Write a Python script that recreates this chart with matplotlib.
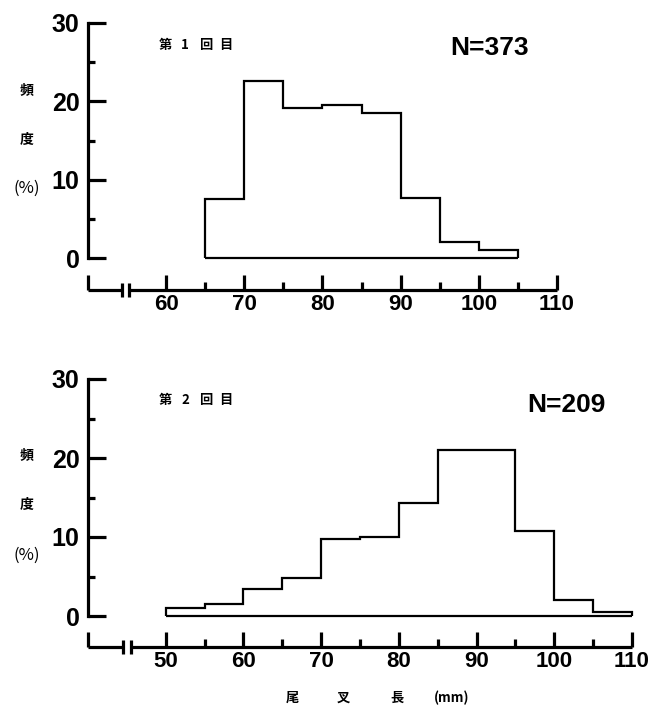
import matplotlib
matplotlib.use("Agg")
import matplotlib.pyplot as plt
from matplotlib.ticker import FixedLocator, FixedFormatter

# ---------------- data ----------------
edges1 = [65, 70, 75, 80, 85, 90, 95, 100, 105]
freq1 = [7.5, 22.6, 19.1, 19.5, 18.5, 7.7, 2.1, 1.0]
edges2 = [50, 55, 60, 65, 70, 75, 80, 85, 90, 95, 100, 105, 110]
freq2 = [1.0, 1.5, 3.4, 4.8, 9.7, 10.0, 14.3, 21.0, 21.0, 10.8, 2.0, 0.5]
title1 = ["第", "1", "回", "目"]
title2 = ["第", "2", "回", "目"]
n1 = "N=373"
n2 = "N=209"
yticks = [0, 10, 20, 30]
yminor = [5, 15, 25]
xmajor1 = [50, 60, 70, 80, 90, 100, 110]
xlabels1 = ["", "60", "70", "80", "90", "100", "110"]
xminor1 = [65, 75, 85, 95, 105]
xmajor2 = [40, 50, 60, 70, 80, 90, 100, 110]
xlabels2 = ["", "50", "60", "70", "80", "90", "100", "110"]
xminor2 = [55, 65, 75, 85, 95, 105]
ylab_chars = ["頻", "度", "(%)"]
xlabel_parts = ["尾", "叉", "長", "(mm)"]

W, H = 650, 708
fig = plt.figure(figsize=(W / 100, H / 100), dpi=100)
fig.patch.set_facecolor("white")

NUM_FONT = ["Liberation Sans", "DejaVu Sans"]
CJK_FONT = ["Noto Sans CJK JP", "DejaVu Sans"]
LW_AX = 2.3
LW_H = 1.6


def px_axes(left, right, y_bottom, y_top):
    """Create axes from pixel coords (y measured from top)."""
    return fig.add_axes([left / W, (H - y_bottom) / H, (right - left) / W,
                         (y_bottom - y_top) / H])


def ftext(x, y, s, **kw):
    return fig.text(x / W, 1 - y / H, s, **kw)


def panel(left, right, xmin, xmax, y0, y30, xaxis_y, brk, edges, freq,
          major, labels, minor, title, title_y, ntext, n_xy, ylab_pos):
    # histogram axes
    ax = px_axes(left, right, y0, y30)
    ax.set_xlim(xmin, xmax)
    ax.set_ylim(0, 30)
    ax.patch.set_alpha(0)
    for s in ["top", "right", "bottom"]:
        ax.spines[s].set_visible(False)
    ax.spines["left"].set_linewidth(LW_AX)
    ax.spines["left"].set_bounds(0, 30)
    ax.xaxis.set_visible(False)
    ax.yaxis.set_major_locator(FixedLocator(yticks))
    ax.yaxis.set_minor_locator(FixedLocator(yminor))
    ax.tick_params(axis="y", which="major", direction="in", length=13,
                   width=LW_AX, pad=6, labelsize=18)
    ax.tick_params(axis="y", which="minor", direction="in", length=5,
                   width=LW_AX)
    for lab in ax.get_yticklabels():
        lab.set_fontfamily(NUM_FONT)
        lab.set_fontweight("bold")
    ax.stairs(freq, edges, baseline=0, fill=False, color="black",
              linewidth=LW_H, clip_on=False)
    ax.hlines(0, edges[0], edges[-1], color="black", linewidth=LW_H,
              clip_on=False)

    # separate x-axis
    axx = px_axes(left, right, xaxis_y, xaxis_y - 20)
    axx.set_xlim(xmin, xmax)
    axx.set_ylim(0, 1)
    axx.patch.set_alpha(0)
    for s in ["top", "right", "left", "bottom"]:
        axx.spines[s].set_visible(False)
    axx.yaxis.set_visible(False)
    axx.xaxis.set_major_locator(FixedLocator(major))
    axx.xaxis.set_major_formatter(FixedFormatter(labels))
    axx.xaxis.set_minor_locator(FixedLocator(minor))
    axx.tick_params(axis="x", which="major", direction="in", length=11,
                    width=LW_AX, pad=3, labelsize=16)
    axx.tick_params(axis="x", which="minor", direction="in", length=6,
                    width=LW_AX)
    for lab in axx.get_xticklabels():
        lab.set_fontfamily(NUM_FONT)
        lab.set_fontweight("bold")
    # axis line with break
    b1, b2 = brk
    axx.plot([xmin, b1], [0, 0], color="black", lw=LW_AX, clip_on=False,
             solid_capstyle="butt")
    axx.plot([b2, xmax], [0, 0], color="black", lw=LW_AX, clip_on=False,
             solid_capstyle="butt")
    for b in brk:
        axx.plot([b, b], [-0.35, 0.35], color="black", lw=LW_AX,
                 clip_on=False, solid_capstyle="butt")

    # texts
    for ch, x in zip(title, [165, 185, 206, 226]):
        ftext(x, title_y, ch, fontsize=9.5, fontweight="bold",
              family=CJK_FONT, va="center", ha="center")
    ftext(n_xy[0], n_xy[1], ntext, fontsize=19, fontweight="bold",
          family=NUM_FONT, va="center", ha="left")
    ftext(27, ylab_pos[0], ylab_chars[0], fontsize=10, fontweight="bold",
          family=CJK_FONT, va="center", ha="center")
    ftext(27, ylab_pos[1], ylab_chars[1], fontsize=10, fontweight="bold",
          family=CJK_FONT, va="center", ha="center")
    ftext(27, ylab_pos[2], ylab_chars[2], fontsize=12,
          family=CJK_FONT, va="center", ha="center", style="italic")


panel(88, 557, 50, 110, 258, 23, 290, (54.3, 55.3), edges1, freq1,
      xmajor1, xlabels1, xminor1, title1, 45, n1, (450, 48),
      (90, 140, 188))
panel(88, 632, 40, 110, 616, 379, 647, (44.5, 45.5), edges2, freq2,
      xmajor2, xlabels2, xminor2, title2, 400, n2, (527, 405),
      (455, 505, 555))

for part, x in zip(xlabel_parts, [292, 343, 397, 452]):
    ftext(x, 698, part, fontsize=9.5, fontweight="bold", family=CJK_FONT,
          va="center", ha="center")

fig.savefig("out.png", dpi=100, facecolor="white")
